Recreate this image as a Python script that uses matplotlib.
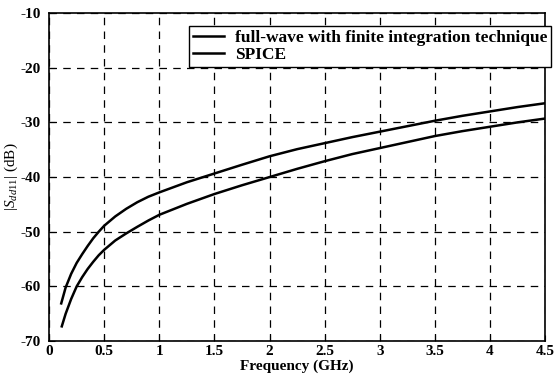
import matplotlib
matplotlib.use("Agg")
import matplotlib.pyplot as plt

plt.rcParams['font.family'] = ['Liberation Serif', 'DejaVu Serif']
plt.rcParams['mathtext.fontset'] = 'custom'
plt.rcParams['mathtext.rm'] = 'Liberation Serif'
plt.rcParams['mathtext.it'] = 'Liberation Serif:italic'
plt.rcParams['axes.unicode_minus'] = False

# values (GHz, dB)
freq_fw = [0.11, 0.15, 0.2, 0.25, 0.3, 0.35, 0.4, 0.45, 0.5, 0.6, 0.7, 0.8, 0.9, 1.0,
           1.25, 1.5, 1.75, 2.0, 2.25, 2.5, 2.75, 3.0, 3.25, 3.5, 3.75, 4.0, 4.25, 4.5]
fullwave = [-63.1, -60.2, -57.7, -55.7, -54.1, -52.6, -51.2, -50.0, -48.9, -47.2, -45.8, -44.6, -43.6, -42.8,
            -40.95, -39.35, -37.75, -36.2, -34.9, -33.8, -32.7, -31.7, -30.7, -29.7, -28.8, -28.0, -27.2, -26.5]
freq_sp = [0.115, 0.15, 0.2, 0.25, 0.3, 0.35, 0.4, 0.45, 0.5, 0.6, 0.7, 0.8, 0.9, 1.0,
           1.25, 1.5, 1.75, 2.0, 2.25, 2.5, 2.75, 3.0, 3.25, 3.5, 3.75, 4.0, 4.25, 4.5]
spice = [-67.3, -65.0, -62.3, -60.0, -58.3, -56.8, -55.5, -54.3, -53.3, -51.6, -50.3, -49.1, -47.95, -46.9,
         -44.9, -43.1, -41.5, -40.0, -38.5, -37.1, -35.8, -34.7, -33.6, -32.5, -31.6, -30.8, -30.0, -29.3]

xticks = [0, 0.5, 1, 1.5, 2, 2.5, 3, 3.5, 4, 4.5]
xticklabels = ['0', '0.5', '1', '1.5', '2', '2.5', '3', '3.5', '4', '4.5']
yticks = [-70, -60, -50, -40, -30, -20, -10]

fig = plt.figure(figsize=(5.58, 3.82), dpi=100)
ax = fig.add_axes([0.088, 0.107, 0.889, 0.859])

ax.plot(freq_fw, fullwave, color='black', linewidth=1.8, label='full-wave with finite integration technique')
ax.plot(freq_sp, spice, color='black', linewidth=1.8, label='SPICE')

ax.set_xlim(0, 4.5)
ax.set_ylim(-70, -10)
ax.set_xticks(xticks)
ax.set_xticklabels(xticklabels)
ax.set_yticks(yticks)
ax.grid(True, linestyle=(0, (6, 5)), color='black', linewidth=0.9)
ax.tick_params(direction='in', labelsize=11, length=4)
ax.tick_params(axis='x', pad=3)
ax.tick_params(axis='y', pad=6)
for lab in ax.get_xticklabels() + ax.get_yticklabels():
    lab.set_fontweight('bold')
for s in ax.spines.values():
    s.set_linewidth(1.2)

ax.set_xlabel('Frequency (GHz)', fontsize=11, fontweight='bold', labelpad=1)
ax.set_ylabel(r'$|S_{dd11}|$ (dB)', fontsize=11)
ax.yaxis.set_label_coords(-0.058, 0.5)

leg = ax.legend(loc='upper right', bbox_to_anchor=(1.012, 0.96), prop={'size': 12.5, 'weight': 'bold'},
                fancybox=False, edgecolor='black', framealpha=1, handlelength=1.8,
                handletextpad=0.6, borderpad=0.22, labelspacing=0.05, borderaxespad=0)
leg.get_frame().set_linewidth(1.0)

fig.savefig('out.png', dpi=100)
